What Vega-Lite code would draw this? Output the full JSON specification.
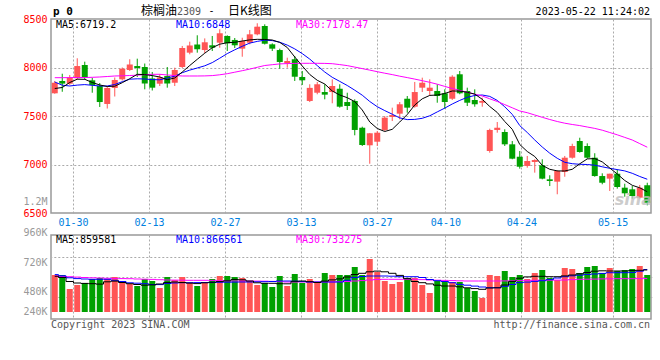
{
  "$schema": "https://vega.github.io/schema/vega-lite/v6.json",
  "background": "#ffffff",
  "autosize": {"type": "pad"},
  "padding": {"left": 22, "top": 4, "right": 0, "bottom": 0},
  "config": {
    "view": {"stroke": "#999999", "strokeWidth": 1.5},
    "axis": {"labelFont": "DejaVu Sans Mono", "labelFontSize": 10, "title": null, "labelOverlap": false, "labelFlush": false, "tickCount": 40}
  },
  "data": {"values": [
    {"d":"01-18","o":7734,"h":7861,"l":7730,"c":7843,"v":785750,"m5":7783.5,"m10":7850.5,"m30":7894.9,"vm5":766575,"vm10":791650,"vm30":769525},
    {"d":"01-19","o":7861,"h":7936,"l":7750,"c":7834,"v":785750,"m5":7793.8,"m10":7817.5,"m30":7894.9,"vm5":748875,"vm10":773950,"vm30":765100},
    {"d":"01-20","o":7833,"h":7923,"l":7820,"c":7895,"v":579250,"m5":7845.4,"m10":7809.3,"m30":7895.9,"vm5":689875,"vm10":744450,"vm30":760675},
    {"d":"01-30","o":7889,"h":8095,"l":7874,"c":8015,"v":638250,"m5":7879.4,"m10":7818.6,"m30":7896.9,"vm5":667750,"vm10":732650,"vm30":754775},
    {"d":"01-31","o":8026,"h":8060,"l":7874,"c":7895,"v":667750,"m5":7878.4,"m10":7823.7,"m30":7896.9,"vm5":661850,"vm10":726750,"vm30":748875},
    {"d":"02-01","o":7868,"h":7895,"l":7740,"c":7820,"v":726750,"m5":7845.4,"m10":7816.5,"m30":7899,"vm5":657425,"vm10":722325,"vm30":744450},
    {"d":"02-02","o":7809,"h":7840,"l":7593,"c":7644,"v":741500,"m5":7819.6,"m10":7809.3,"m30":7902.1,"vm5":651525,"vm10":722325,"vm30":741500},
    {"d":"02-03","o":7624,"h":7809,"l":7577,"c":7789,"v":726750,"m5":7804.1,"m10":7809.3,"m30":7907.2,"vm5":685450,"vm10":722325,"vm30":737075},
    {"d":"02-06","o":7789,"h":7897,"l":7701,"c":7871,"v":756250,"m5":7807.2,"m10":7824.8,"m30":7912.4,"vm5":695775,"vm10":707575,"vm30":735600},
    {"d":"02-07","o":7878,"h":8000,"l":7866,"c":7988,"v":667750,"m5":7843.3,"m10":7853.6,"m30":7914.4,"vm5":675125,"vm10":689875,"vm30":732650},
    {"d":"02-08","o":7974,"h":8085,"l":7964,"c":8031,"v":653000,"m5":7884.6,"m10":7879.4,"m30":7917.5,"vm5":657425,"vm10":670700,"vm30":731175},
    {"d":"02-09","o":8015,"h":8091,"l":7902,"c":7995,"v":623500,"m5":7929.9,"m10":7883.5,"m30":7920.6,"vm5":645625,"vm10":664800,"vm30":726750},
    {"d":"02-10","o":8005,"h":8041,"l":7775,"c":7835,"v":726750,"m5":7926.8,"m10":7881.5,"m30":7926.8,"vm5":635300,"vm10":657425,"vm30":723800},
    {"d":"02-13","o":7887,"h":7954,"l":7763,"c":7792,"v":697250,"m5":7916.5,"m10":7875.3,"m30":7929.9,"vm5":639725,"vm10":645625,"vm30":720850},
    {"d":"02-14","o":7833,"h":7933,"l":7809,"c":7897,"v":594000,"m5":7902.1,"m10":7873.2,"m30":7929.9,"vm5":653000,"vm10":644150,"vm30":716425},
    {"d":"02-15","o":7912,"h":8005,"l":7792,"c":7835,"v":756250,"m5":7874.2,"m10":7891.8,"m30":7922.7,"vm5":673650,"vm10":660375,"vm30":712000},
    {"d":"02-16","o":7843,"h":7998,"l":7809,"c":7974,"v":712000,"m5":7891.8,"m10":7910.3,"m30":7917.5,"vm5":682500,"vm10":667750,"vm30":710525},
    {"d":"02-17","o":8005,"h":8222,"l":7995,"c":8201,"v":756250,"m5":7953.6,"m10":7946.4,"m30":7912.4,"vm5":675125,"vm10":672175,"vm30":709050},
    {"d":"02-20","o":8153,"h":8266,"l":8136,"c":8227,"v":667750,"m5":8020.6,"m10":7973.2,"m30":7912.4,"vm5":666275,"vm10":672175,"vm30":707575},
    {"d":"02-21","o":8237,"h":8332,"l":8153,"c":8188,"v":623500,"m5":8084.5,"m10":7994.9,"m30":7912.4,"vm5":658900,"vm10":673650,"vm30":707575},
    {"d":"02-22","o":8180,"h":8300,"l":8150,"c":8260,"v":682500,"m5":8147.4,"m10":8017.5,"m30":7913.4,"vm5":670700,"vm10":675125,"vm30":707575},
    {"d":"02-23","o":8229,"h":8325,"l":8170,"c":8204,"v":726750,"m5":8204.1,"m10":8050.5,"m30":7916.5,"vm5":678075,"vm10":676600,"vm30":706100},
    {"d":"02-24","o":8256,"h":8394,"l":8204,"c":8353,"v":771000,"m5":8240.2,"m10":8095.9,"m30":7924.8,"vm5":688400,"vm10":678075,"vm30":701675},
    {"d":"02-27","o":8325,"h":8332,"l":8170,"c":8249,"v":771000,"m5":8255.7,"m10":8143.3,"m30":7936.1,"vm5":700200,"vm10":679550,"vm30":697250},
    {"d":"02-28","o":8284,"h":8304,"l":8201,"c":8229,"v":756250,"m5":8259.8,"m10":8182.5,"m30":7951.6,"vm5":720850,"vm10":681025,"vm30":697250},
    {"d":"03-01","o":8194,"h":8307,"l":8111,"c":8273,"v":741500,"m5":8273.2,"m10":8218.6,"m30":7967,"vm5":714950,"vm10":682500,"vm30":697250},
    {"d":"03-02","o":8256,"h":8387,"l":8239,"c":8342,"v":697250,"m5":8284.5,"m10":8251.6,"m30":7983.5,"vm5":697250,"vm10":682500,"vm30":697250},
    {"d":"03-03","o":8342,"h":8456,"l":8332,"c":8421,"v":638250,"m5":8290.7,"m10":8269.1,"m30":8002.1,"vm5":670700,"vm10":685450,"vm30":695775},
    {"d":"03-06","o":8428,"h":8445,"l":8237,"c":8245,"v":667750,"m5":8288.7,"m10":8282.5,"m30":8020.6,"vm5":663325,"vm10":686925,"vm30":694300},
    {"d":"03-07","o":8239,"h":8249,"l":8170,"c":8194,"v":608750,"m5":8283.5,"m10":8277.3,"m30":8028.9,"vm5":663325,"vm10":689875,"vm30":691350},
    {"d":"03-08","o":8180,"h":8194,"l":7988,"c":8057,"v":771000,"m5":8258.8,"m10":8260.8,"m30":8037.1,"vm5":657425,"vm10":697250,"vm30":686925},
    {"d":"03-09","o":8043,"h":8101,"l":7998,"c":8067,"v":623500,"m5":8206.2,"m10":8230.9,"m30":8040.2,"vm5":655950,"vm10":697250,"vm30":682500},
    {"d":"03-10","o":8085,"h":8119,"l":7861,"c":7905,"v":800500,"m5":8108.3,"m10":8191.8,"m30":8042.3,"vm5":692825,"vm10":694300,"vm30":682500},
    {"d":"03-13","o":7902,"h":7964,"l":7820,"c":7868,"v":667750,"m5":8015.5,"m10":8143.3,"m30":8043.3,"vm5":697250,"vm10":688400,"vm30":682500},
    {"d":"03-14","o":7655,"h":7827,"l":7644,"c":7790,"v":726750,"m5":7927.9,"m10":8086.6,"m30":8043.3,"vm5":686925,"vm10":682500,"vm30":682500},
    {"d":"03-15","o":7740,"h":7851,"l":7724,"c":7827,"v":667750,"m5":7868.1,"m10":8019.6,"m30":8043.3,"vm5":675125,"vm10":682500,"vm30":682500},
    {"d":"03-16","o":7747,"h":7827,"l":7672,"c":7720,"v":815250,"m5":7829.9,"m10":7953.6,"m30":8042.3,"vm5":695775,"vm10":682500,"vm30":682500},
    {"d":"03-17","o":7747,"h":7878,"l":7631,"c":7809,"v":785750,"m5":7757.8,"m10":7899,"m30":8039.2,"vm5":713475,"vm10":682500,"vm30":683975},
    {"d":"03-20","o":7781,"h":7827,"l":7586,"c":7596,"v":785750,"m5":7716.5,"m10":7856.7,"m30":8029.9,"vm5":728225,"vm10":682500,"vm30":686925},
    {"d":"03-21","o":7644,"h":7740,"l":7562,"c":7603,"v":785750,"m5":7688.7,"m10":7814.5,"m30":8019.6,"vm5":756250,"vm10":707575,"vm30":689875},
    {"d":"03-22","o":7655,"h":7672,"l":7301,"c":7356,"v":903750,"m5":7648.5,"m10":7766,"m30":8004.1,"vm5":793125,"vm10":747400,"vm30":697250},
    {"d":"03-23","o":7379,"h":7390,"l":7191,"c":7201,"v":785750,"m5":7561.9,"m10":7714.4,"m30":7988.7,"vm5":810825,"vm10":763625,"vm30":703150},
    {"d":"03-24","o":7198,"h":7325,"l":7008,"c":7322,"v":1021750,"m5":7438.2,"m10":7649.5,"m30":7973.2,"vm5":832950,"vm10":771000,"vm30":712000},
    {"d":"03-27","o":7235,"h":7345,"l":7191,"c":7328,"v":830000,"m5":7371.2,"m10":7595.9,"m30":7956.7,"vm5":843275,"vm10":771000,"vm30":719375},
    {"d":"03-28","o":7356,"h":7500,"l":7345,"c":7483,"v":697250,"m5":7340.2,"m10":7555.7,"m30":7941.3,"vm5":832950,"vm10":771000,"vm30":722325},
    {"d":"03-29","o":7490,"h":7586,"l":7448,"c":7510,"v":653000,"m5":7362.9,"m10":7518.6,"m30":7926.8,"vm5":810825,"vm10":768050,"vm30":722325},
    {"d":"03-30","o":7524,"h":7644,"l":7466,"c":7621,"v":682500,"m5":7438.2,"m10":7480.4,"m30":7910.3,"vm5":779850,"vm10":760675,"vm30":722325},
    {"d":"03-31","o":7678,"h":7706,"l":7534,"c":7586,"v":741500,"m5":7515.5,"m10":7462.9,"m30":7895.9,"vm5":731175,"vm10":760675,"vm30":722325},
    {"d":"04-03","o":7596,"h":7851,"l":7586,"c":7747,"v":741500,"m5":7613.4,"m10":7465,"m30":7880.4,"vm5":689875,"vm10":760675,"vm30":722325},
    {"d":"04-04","o":7792,"h":7895,"l":7747,"c":7843,"v":638250,"m5":7677.3,"m10":7476.3,"m30":7863.9,"vm5":672175,"vm10":748875,"vm30":717900},
    {"d":"04-06","o":7758,"h":7878,"l":7713,"c":7792,"v":520250,"m5":7712.4,"m10":7502.1,"m30":7847.4,"vm5":654475,"vm10":719375,"vm30":712000},
    {"d":"04-07","o":7758,"h":7827,"l":7637,"c":7706,"v":697250,"m5":7716.5,"m10":7542.3,"m30":7827.9,"vm5":635300,"vm10":701675,"vm30":709050},
    {"d":"04-10","o":7734,"h":7775,"l":7575,"c":7644,"v":682500,"m5":7732,"m10":7581.5,"m30":7805.2,"vm5":623500,"vm10":689875,"vm30":706100},
    {"d":"04-11","o":7678,"h":7920,"l":7665,"c":7905,"v":682500,"m5":7757.8,"m10":7623.7,"m30":7783.5,"vm5":623500,"vm10":672175,"vm30":703150},
    {"d":"04-12","o":7930,"h":7964,"l":7724,"c":7734,"v":682500,"m5":7756.8,"m10":7660.8,"m30":7763.9,"vm5":611700,"vm10":647100,"vm30":700200},
    {"d":"04-13","o":7758,"h":7792,"l":7603,"c":7637,"v":594000,"m5":7744.4,"m10":7692.8,"m30":7744.4,"vm5":596950,"vm10":635300,"vm30":697250},
    {"d":"04-14","o":7665,"h":7775,"l":7596,"c":7621,"v":549750,"m5":7725.8,"m10":7711.4,"m30":7724.8,"vm5":585150,"vm10":622025,"vm30":697250},
    {"d":"04-17","o":7637,"h":7689,"l":7596,"c":7655,"v":446500,"m5":7672.2,"m10":7716.5,"m30":7706.2,"vm5":574825,"vm10":608750,"vm30":697250},
    {"d":"04-18","o":7139,"h":7369,"l":7122,"c":7356,"v":785750,"m5":7598,"m10":7702.1,"m30":7677.3,"vm5":594000,"vm10":598425,"vm30":697250},
    {"d":"04-19","o":7356,"h":7438,"l":7328,"c":7379,"v":771000,"m5":7536.1,"m10":7660.8,"m30":7649.5,"vm5":596950,"vm10":598425,"vm30":697250},
    {"d":"04-20","o":7335,"h":7363,"l":7191,"c":7208,"v":844750,"m5":7443.3,"m10":7594.9,"m30":7617.5,"vm5":638250,"vm10":619075,"vm30":698725},
    {"d":"04-21","o":7208,"h":7242,"l":7054,"c":7060,"v":756250,"m5":7362.9,"m10":7516.5,"m30":7584.6,"vm5":691350,"vm10":645625,"vm30":700200},
    {"d":"04-24","o":7080,"h":7139,"l":6957,"c":6977,"v":785750,"m5":7206.2,"m10":7401.1,"m30":7551.6,"vm5":738550,"vm10":673650,"vm30":703150},
    {"d":"04-25","o":6985,"h":7088,"l":6967,"c":7036,"v":726750,"m5":7134.1,"m10":7329.9,"m30":7534,"vm5":757725,"vm10":681025,"vm30":706100},
    {"d":"04-26","o":7026,"h":7054,"l":6916,"c":7046,"v":815250,"m5":7082.5,"m10":7252.6,"m30":7510.3,"vm5":766575,"vm10":691350,"vm30":707575},
    {"d":"04-27","o":6992,"h":7054,"l":6847,"c":6854,"v":859500,"m5":6990.8,"m10":7180.4,"m30":7486.6,"vm5":766575,"vm10":701675,"vm30":709050},
    {"d":"04-28","o":6847,"h":6889,"l":6778,"c":6830,"v":741500,"m5":6950.6,"m10":7116.5,"m30":7463.9,"vm5":760675,"vm10":717900,"vm30":709050},
    {"d":"05-04","o":6823,"h":6943,"l":6693,"c":6933,"v":712000,"m5":6934.1,"m10":7064,"m30":7443.3,"vm5":760675,"vm10":741500,"vm30":710525},
    {"d":"05-05","o":6923,"h":7088,"l":6874,"c":7070,"v":889000,"m5":6933,"m10":7022.7,"m30":7425.8,"vm5":772475,"vm10":760675,"vm30":712000},
    {"d":"05-08","o":7070,"h":7214,"l":7060,"c":7191,"v":874250,"m5":6950.6,"m10":7008.3,"m30":7412.4,"vm5":785750,"vm10":773950,"vm30":717900},
    {"d":"05-09","o":7242,"h":7276,"l":7122,"c":7129,"v":815250,"m5":7007.3,"m10":7002.1,"m30":7401.1,"vm5":803450,"vm10":782800,"vm30":722325},
    {"d":"05-10","o":7191,"h":7218,"l":7060,"c":7070,"v":903750,"m5":7057.8,"m10":7000,"m30":7386.6,"vm5":822625,"vm10":794600,"vm30":723800},
    {"d":"05-11","o":7070,"h":7116,"l":6874,"c":6881,"v":918500,"m5":7060.9,"m10":6992.8,"m30":7372.2,"vm5":841800,"vm10":800500,"vm30":725275},
    {"d":"05-12","o":6881,"h":6909,"l":6796,"c":6812,"v":815250,"m5":7026.8,"m10":6976.3,"m30":7353.6,"vm5":847700,"vm10":809350,"vm30":728225},
    {"d":"05-15","o":6854,"h":6905,"l":6727,"c":6905,"v":889000,"m5":6964,"m10":6960.9,"m30":7329.9,"vm5":844750,"vm10":819675,"vm30":729700},
    {"d":"05-16","o":6905,"h":6951,"l":6751,"c":6768,"v":844750,"m5":6902.1,"m10":6947.5,"m30":7306.2,"vm5":844750,"vm10":819675,"vm30":731175},
    {"d":"05-17","o":6761,"h":6802,"l":6668,"c":6703,"v":859500,"m5":6835.1,"m10":6934.1,"m30":7279.4,"vm5":844750,"vm10":819675,"vm30":731175},
    {"d":"05-18","o":6744,"h":6778,"l":6648,"c":6675,"v":874250,"m5":6785.6,"m10":6909.3,"m30":7252.6,"vm5":850650,"vm10":824100,"vm30":731175},
    {"d":"05-19","o":6658,"h":6789,"l":6648,"c":6761,"v":918500,"m5":6759.8,"m10":6876.3,"m30":7215.5,"vm5":855075,"vm10":841800,"vm30":732650},
    {"d":"05-22","o":6786,"h":6812,"l":6579,"c":6606,"v":785750,"m5":6719.2,"m10":6848,"m30":7178.47,"vm5":859581,"vm10":866561,"vm30":733275}
  ]},
  "spacing": 22,
  "bounds": "flush",
  "resolve": {"scale": {"x": "independent", "y": "independent"}},
  "vconcat": [
    {
      "width": 600,
      "height": 194,
      "resolve": {"scale": {"x": "independent", "y": "independent"}, "axis": {"x": "independent", "y": "independent"}},
      "layer": [
        {
          "mark": {"type": "point", "opacity": 0},
          "encoding": {
            "x": {"field": "d", "type": "ordinal", "sort": null,
              "scale": {"type": "point", "range": [-0.8, 599.6], "padding": 0},
              "axis": {"orient": "bottom", "values": ["01-30","02-13","02-27","03-13","03-27","04-10","04-24","05-15"],
                "grid": true, "gridColor": "#aaaaaa", "gridDash": [2, 2], "gridWidth": 1,
                "ticks": false, "domain": false, "labelAngle": 0, "labelColor": "#0080e0",
                "labelPadding": 4, "labelOverlap": false, "labelFlush": false}},
            "y": {"field": "c", "type": "quantitative",
              "scale": {"domain": [6500, 8500], "nice": false, "zero": false},
              "axis": {"orient": "right", "values": [7000, 7500, 8000], "tickCount": 40, "grid": true, "gridColor": "#aaaaaa", "gridDash": [2, 2],
                "labels": false, "ticks": false, "domain": false}}
          }
        },
        {
          "layer": [
            {
              "mark": {"type": "rule", "strokeWidth": 1},
              "encoding": {
                "x": {"field": "d", "type": "ordinal", "sort": null, "scale": {"type": "band", "paddingInner": 0.2, "paddingOuter": 0.1}, "axis": null},
                "y": {"field": "l", "type": "quantitative",
                  "scale": {"domain": [6500, 8500], "nice": false, "zero": false},
                  "axis": {"orient": "left", "values": [8500, 8000, 7500, 7000, 6620, 6500], "tickCount": 40, "format": "d",
                    "labelExpr": "datum.value == 6620 ? '1.2M' : datum.label",
                    "labelColor": {"condition": {"test": "datum.value == 6620", "value": "#999999"}, "value": "#ff0000"},
                    "grid": false, "ticks": false, "domain": false, "labelPadding": 4, "labelOverlap": false, "labelFlush": false}},
                "y2": {"field": "h"},
                "color": {"condition": {"test": "datum.c >= datum.o", "value": "#ff5555"}, "value": "#00a000"}
              }
            },
            {
              "mark": {"type": "bar"},
              "encoding": {
                "x": {"field": "d", "type": "ordinal", "sort": null},
                "y": {"field": "o", "type": "quantitative"},
                "y2": {"field": "c"},
                "color": {"condition": {"test": "datum.c >= datum.o", "value": "#ff5555"}, "value": "#00a000"}
              }
            },
            {
              "mark": {"type": "line", "color": "#0000ff", "strokeWidth": 1},
              "encoding": {"x": {"field": "d", "type": "ordinal", "sort": null}, "y": {"field": "m10", "type": "quantitative"}}
            },
            {
              "mark": {"type": "line", "color": "#ff00ff", "strokeWidth": 1},
              "encoding": {"x": {"field": "d", "type": "ordinal", "sort": null}, "y": {"field": "m30", "type": "quantitative"}}
            },
            {
              "mark": {"type": "line", "color": "#000000", "strokeWidth": 1},
              "encoding": {"x": {"field": "d", "type": "ordinal", "sort": null}, "y": {"field": "m5", "type": "quantitative"}}
            },
            {
              "transform": [{"filter": "datum.d == '01-18'"}],
              "mark": {"type": "text", "text": "MA5:6719.2", "align": "left", "baseline": "middle", "dx": 1.25, "dy": 6, "font": "DejaVu Sans Mono", "fontSize": 10, "color": "#000000"},
              "encoding": {"x": {"field": "d", "type": "ordinal", "sort": null}, "y": {"datum": 8500}}
            },
            {
              "transform": [{"filter": "datum.d == '01-18'"}],
              "mark": {"type": "text", "text": "MA10:6848", "align": "left", "baseline": "middle", "dx": 121.25, "dy": 6, "font": "DejaVu Sans Mono", "fontSize": 10, "color": "#0000ff"},
              "encoding": {"x": {"field": "d", "type": "ordinal", "sort": null}, "y": {"datum": 8500}}
            },
            {
              "transform": [{"filter": "datum.d == '01-18'"}],
              "mark": {"type": "text", "text": "MA30:7178.47", "align": "left", "baseline": "middle", "dx": 241.25, "dy": 6, "font": "DejaVu Sans Mono", "fontSize": 10, "color": "#ff00ff"},
              "encoding": {"x": {"field": "d", "type": "ordinal", "sort": null}, "y": {"datum": 8500}}
            },
            {
              "transform": [{"filter": "datum.d == '01-18'"}],
              "mark": {"type": "text", "text": "p 0", "align": "left", "baseline": "middle", "dx": -1.75, "dy": -7, "font": "DejaVu Sans Mono", "fontSize": 11, "fontWeight": "bold", "color": "#000000"},
              "encoding": {"x": {"field": "d", "type": "ordinal", "sort": null}, "y": {"datum": 8500}}
            },
            {
              "transform": [{"filter": "datum.d == '01-18'"}],
              "mark": {"type": "text", "text": "棕榈油", "align": "left", "baseline": "middle", "dx": 86.25, "dy": -8, "font": "Noto Sans CJK SC", "fontSize": 12, "color": "#000000"},
              "encoding": {"x": {"field": "d", "type": "ordinal", "sort": null}, "y": {"datum": 8500}}
            },
            {
              "transform": [{"filter": "datum.d == '01-18'"}],
              "mark": {"type": "text", "text": "2309", "align": "left", "baseline": "middle", "dx": 122.25, "dy": -7, "font": "DejaVu Sans Mono", "fontSize": 10, "color": "#555555"},
              "encoding": {"x": {"field": "d", "type": "ordinal", "sort": null}, "y": {"datum": 8500}}
            },
            {
              "transform": [{"filter": "datum.d == '01-18'"}],
              "mark": {"type": "text", "text": "-", "align": "left", "baseline": "middle", "dx": 153.75, "dy": -8, "font": "DejaVu Sans Mono", "fontSize": 10, "color": "#000000"},
              "encoding": {"x": {"field": "d", "type": "ordinal", "sort": null}, "y": {"datum": 8500}}
            },
            {
              "transform": [{"filter": "datum.d == '01-18'"}],
              "mark": {"type": "text", "text": "日K线图", "align": "left", "baseline": "middle", "dx": 173.25, "dy": -8, "font": "Noto Sans CJK SC", "fontSize": 12, "color": "#000000"},
              "encoding": {"x": {"field": "d", "type": "ordinal", "sort": null}, "y": {"datum": 8500}}
            },
            {
              "transform": [{"filter": "datum.d == '05-22'"}],
              "mark": {"type": "text", "text": "2023-05-22 11:24:02", "align": "right", "baseline": "middle", "dx": 2.75, "dy": -7, "font": "DejaVu Sans Mono", "fontSize": 10, "color": "#000000"},
              "encoding": {"x": {"field": "d", "type": "ordinal", "sort": null}, "y": {"datum": 8500}}
            },
            {
              "transform": [{"filter": "datum.d == '05-22'"}],
              "mark": {"type": "text", "text": "sina", "align": "right", "baseline": "middle", "dx": 4.75, "dy": -13, "font": "DejaVu Sans", "fontSize": 16, "fontWeight": "bold", "fontStyle": "italic", "color": "#c0c0c0", "opacity": 0.8},
              "encoding": {"x": {"field": "d", "type": "ordinal", "sort": null}, "y": {"datum": 6500}}
            }
          ]
        }
      ]
    },
    {
      "width": 600,
      "height": 84,
      "resolve": {"scale": {"x": "independent", "y": "independent"}, "axis": {"x": "independent", "y": "independent"}},
      "layer": [
        {
          "mark": {"type": "point", "opacity": 0},
          "encoding": {
            "x": {"field": "d", "type": "ordinal", "sort": null,
              "scale": {"type": "point", "range": [-0.8, 599.6], "padding": 0},
              "axis": {"orient": "bottom", "values": ["01-30","02-13","02-27","03-13","03-27","04-10","04-24","05-15"],
                "grid": true, "gridColor": "#aaaaaa", "gridDash": [2, 2], "gridWidth": 1,
                "ticks": false, "domain": false, "labels": false}},
            "y": {"field": "v", "type": "quantitative",
              "scale": {"domain": [136750, 1375750], "nice": false, "zero": false},
              "axis": {"orient": "right", "values": [461250, 756250, 1051250], "tickCount": 40, "grid": true, "gridColor": "#aaaaaa", "gridDash": [2, 2],
                "labels": false, "ticks": false, "domain": false}}
          }
        },
        {
          "layer": [
            {
              "mark": {"type": "bar"},
              "encoding": {
                "x": {"field": "d", "type": "ordinal", "sort": null, "scale": {"type": "band", "paddingInner": 0.2, "paddingOuter": 0.1}, "axis": null},
                "y": {"field": "v", "type": "quantitative",
                  "scale": {"domain": [136750, 1375750], "nice": false, "zero": false},
                  "axis": {"orient": "left", "values": [1375750, 974550, 545325, 250325], "tickCount": 40,
                    "labelExpr": "datum.value > 1300000 ? '960K' : datum.value > 900000 ? '720K' : datum.value > 500000 ? '480K' : '240K'",
                    "labelBaseline": {"condition": {"test": "datum.value > 1300000", "value": "alphabetic"}, "value": "middle"},
                    "labelColor": "#999999", "grid": false, "ticks": false, "domain": false, "labelPadding": 4, "labelOverlap": false, "labelFlush": false}},
                "y2": {"datum": 240000},
                "color": {"condition": {"test": "datum.c >= datum.o", "value": "#ff5555"}, "value": "#00a000"}
              }
            },
            {
              "mark": {"type": "line", "color": "#ff00ff", "strokeWidth": 1, "interpolate": "step"},
              "encoding": {"x": {"field": "d", "type": "ordinal", "sort": null}, "y": {"field": "vm30", "type": "quantitative"}}
            },
            {
              "mark": {"type": "line", "color": "#0000ff", "strokeWidth": 1, "interpolate": "step"},
              "encoding": {"x": {"field": "d", "type": "ordinal", "sort": null}, "y": {"field": "vm10", "type": "quantitative"}}
            },
            {
              "mark": {"type": "line", "color": "#000000", "strokeWidth": 1, "interpolate": "step"},
              "encoding": {"x": {"field": "d", "type": "ordinal", "sort": null}, "y": {"field": "vm5", "type": "quantitative"}}
            },
            {
              "transform": [{"filter": "datum.d == '01-18'"}],
              "mark": {"type": "text", "text": "MA5:859581", "align": "left", "baseline": "middle", "dx": 1.25, "dy": 4.5, "font": "DejaVu Sans Mono", "fontSize": 10, "color": "#000000"},
              "encoding": {"x": {"field": "d", "type": "ordinal", "sort": null}, "y": {"datum": 1375750}}
            },
            {
              "transform": [{"filter": "datum.d == '01-18'"}],
              "mark": {"type": "text", "text": "MA10:866561", "align": "left", "baseline": "middle", "dx": 121.25, "dy": 4.5, "font": "DejaVu Sans Mono", "fontSize": 10, "color": "#0000ff"},
              "encoding": {"x": {"field": "d", "type": "ordinal", "sort": null}, "y": {"datum": 1375750}}
            },
            {
              "transform": [{"filter": "datum.d == '01-18'"}],
              "mark": {"type": "text", "text": "MA30:733275", "align": "left", "baseline": "middle", "dx": 241.25, "dy": 4.5, "font": "DejaVu Sans Mono", "fontSize": 10, "color": "#ff00ff"},
              "encoding": {"x": {"field": "d", "type": "ordinal", "sort": null}, "y": {"datum": 1375750}}
            },
            {
              "transform": [{"filter": "datum.d == '01-18'"}],
              "mark": {"type": "text", "text": "Copyright 2023 SINA.COM", "align": "left", "baseline": "middle", "dx": -3.75, "dy": 5.5, "font": "DejaVu Sans Mono", "fontSize": 10, "color": "#555555"},
              "encoding": {"x": {"field": "d", "type": "ordinal", "sort": null}, "y": {"datum": 136750}}
            },
            {
              "transform": [{"filter": "datum.d == '05-22'"}],
              "mark": {"type": "text", "text": "http://finance.sina.com.cn", "align": "right", "baseline": "middle", "dx": 2.75, "dy": 5.5, "font": "DejaVu Sans Mono", "fontSize": 10, "color": "#555555"},
              "encoding": {"x": {"field": "d", "type": "ordinal", "sort": null}, "y": {"datum": 136750}}
            }
          ]
        }
      ]
    }
  ]
}
